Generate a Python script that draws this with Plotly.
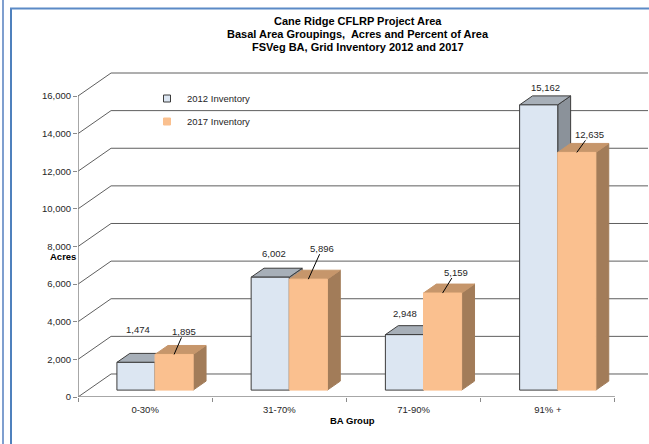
import plotly.graph_objects as go

# ---------------- data ----------------
categories = ["0-30%", "31-70%", "71-90%", "91% +"]
inv_2012 = [1474, 6002, 2948, 15162]
inv_2017 = [1895, 5896, 5159, 12635]
series_names = ["2012 Inventory", "2017 Inventory"]
y_ticks = [0, 2000, 4000, 6000, 8000, 10000, 12000, 14000, 16000]
title_lines = ["Cane Ridge CFLRP Project Area",
               "Basal Area Groupings,  Acres and Percent of Area",
               "FSVeg BA, Grid Inventory 2012 and 2017"]
x_title = "BA Group"
y_title = "Acres"

# ---------------- style / geometry ----------------
W, H = 649, 444
ML, MR, MT, MB = 78, 1, 72, 47
PLOT_W = W - ML - MR
PLOT_H = H - MT - MB
Y_TOP = 17276
DEPTH_X = 0.2463          # floor depth, category units
DEPTH_Y = 1223            # floor depth, value units
X_MIN, X_MAX = -0.5, len(categories) - 0.5 + DEPTH_X
BAR_W = 0.284
BAR_FRONT = 0.30          # bar front position as fraction of depth
BAR_DEPTH = 0.39          # bar depth as fraction of depth
FONT = "Liberation Sans, Arial, sans-serif"
TXT = "#262626"
GRID = "#5f5f5f"
AXIS = "#8a8a8a"

styles = [
    dict(front="#dce6f2", top="#a7afb8", side="#8b929a", edge="#3c3c3c"),
    dict(front="#fac08f", top="#c6966b", side="#a27c59", edge=None),
]
# label offsets (px) from the front-top centre of each bar
label_off_2012 = [(2, -33), (4, -24), (1, -21), (7, -17)]
label_off_2017 = [(10, -23), (14, -31), (13, -21), (13, -18)]


def px_x(p):
    return (p - ML) / PLOT_W


def px_y(p):
    return (H - MB - p) / PLOT_H


fig = go.Figure()

series_vals = [inv_2012, inv_2017]
fronts = []
for s, vals in enumerate(series_vals):
    st = styles[s]
    fx, fy, tx, ty, sx, sy = [], [], [], [], [], []
    for i, v in enumerate(vals):
        x0 = i + BAR_FRONT * DEPTH_X + (-BAR_W if s == 0 else 0)
        x1 = x0 + BAR_W
        y0 = BAR_FRONT * DEPTH_Y
        y1 = y0 + v
        dx = BAR_DEPTH * DEPTH_X
        dy = BAR_DEPTH * DEPTH_Y
        fx += [x0, x1, x1, x0, x0, None]
        fy += [y0, y0, y1, y1, y0, None]
        tx += [x0, x1, x1 + dx, x0 + dx, x0, None]
        ty += [y1, y1, y1 + dy, y1 + dy, y1, None]
        sx += [x1, x1 + dx, x1 + dx, x1, x1, None]
        sy += [y0, y0 + dy, y1 + dy, y1, y0, None]
        fronts.append((s, i, (x0 + x1) / 2, y1, v))
    for xs, ys, col in [(sx, sy, st["side"]), (tx, ty, st["top"]), (fx, fy, st["front"])]:
        fig.add_trace(go.Scatter(
            x=xs, y=ys, mode="lines", fill="toself", fillcolor=col,
            line=dict(color=st["edge"] or col, width=1),
            hoverinfo="skip", showlegend=False))

# legend entries
for s, name in enumerate(series_names):
    st = styles[s]
    fig.add_trace(go.Scatter(
        x=[None], y=[None], mode="markers", name=name, legendgroup=name,
        marker=dict(symbol="square", size=7, color=st["front"],
                    line=dict(color=st["edge"] or st["front"], width=1))))

shapes = []
# grid lines on left wall and back wall
for v in y_ticks:
    shapes.append(dict(type="line", xref="x", yref="y", layer="below",
                       x0=X_MIN, y0=v, x1=X_MIN + DEPTH_X, y1=v + DEPTH_Y,
                       line=dict(color=GRID, width=1)))
    shapes.append(dict(type="line", xref="x", yref="y", layer="below",
                       x0=X_MIN + DEPTH_X, y0=v + DEPTH_Y, x1=X_MAX, y1=v + DEPTH_Y,
                       line=dict(color=GRID, width=1)))
# front axis lines
shapes.append(dict(type="line", xref="x", yref="y", layer="below",
                   x0=X_MIN, y0=0, x1=X_MIN, y1=y_ticks[-1],
                   line=dict(color=AXIS, width=1.5)))
shapes.append(dict(type="line", xref="x", yref="y", layer="below",
                   x0=X_MIN, y0=0, x1=len(categories) - 0.5, y1=0,
                   line=dict(color=AXIS, width=1.5)))
# frame borders
shapes.append(dict(type="line", xref="paper", yref="paper",
                   x0=px_x(3), y0=px_y(0), x1=px_x(3), y1=px_y(H),
                   line=dict(color="#7f9fcf", width=2)))
shapes.append(dict(type="line", xref="paper", yref="paper",
                   x0=px_x(11), y0=px_y(8.5), x1=px_x(11), y1=px_y(H),
                   line=dict(color="#4f81bd", width=2)))
shapes.append(dict(type="line", xref="paper", yref="paper",
                   x0=px_x(10), y0=px_y(8.5), x1=px_x(W), y1=px_y(8.5),
                   line=dict(color="#5b8ac6", width=2)))

annotations = []
for k, line in enumerate(title_lines):
    annotations.append(dict(xref="paper", yref="paper", x=px_x(358),
                            y=px_y(20.7 + 13 * k), text="<b>%s</b>" % line,
                            showarrow=False, xanchor="center", yanchor="middle",
                            font=dict(family=FONT, size=11, color="#000000")))
annotations.append(dict(xref="paper", yref="paper", x=px_x(47.5), y=px_y(256),
                        text="<b>%s</b>" % y_title, showarrow=False,
                        font=dict(family=FONT, size=9.5, color="#000000")))
annotations.append(dict(xref="paper", yref="paper", x=px_x(352), y=px_y(428),
                        text="<b>%s</b>" % x_title, showarrow=False,
                        font=dict(family=FONT, size=9.5, color="#000000")))

for s, i, xc, ytop, v in fronts:
    if s == 0:
        ox, oy = label_off_2012[i]
        annotations.append(dict(x=xc, y=ytop, xref="x", yref="y",
                                text=f"{v:,}", showarrow=False,
                                xshift=ox, yshift=-oy,
                                font=dict(family=FONT, size=9.5, color=TXT)))
    else:
        ox, oy = label_off_2017[i]
        annotations.append(dict(x=xc, y=ytop, xref="x", yref="y",
                                text=f"{v:,}", showarrow=True, arrowhead=0,
                                arrowwidth=1, arrowcolor="#000000",
                                ax=ox, ay=oy, borderpad=0,
                                font=dict(family=FONT, size=9.5, color=TXT)))

fig.update_layout(
    width=W, height=H,
    margin=dict(l=ML, r=MR, t=MT, b=MB, pad=0),
    paper_bgcolor="white", plot_bgcolor="white",
    showlegend=True,
    legend=dict(x=px_x(147), y=px_y(84), xanchor="left", yanchor="top",
                traceorder="grouped", tracegroupgap=4, bgcolor="rgba(0,0,0,0)",
                font=dict(family=FONT, size=9.5, color=TXT)),
    xaxis=dict(range=[X_MIN, X_MAX], showgrid=False, zeroline=False,
               showline=False, tickmode="array",
               tickvals=list(range(len(categories))), ticktext=categories,
               ticks="outside", ticklen=4, tickcolor="rgba(0,0,0,0)",
               minor=dict(tickmode="array",
                          tickvals=[c - 0.5 for c in range(len(categories) + 1)],
                          ticks="outside", ticklen=4, tickcolor=AXIS, showgrid=False),
               tickfont=dict(family=FONT, size=9.5, color=TXT), fixedrange=True),
    yaxis=dict(range=[0, Y_TOP], showgrid=False, zeroline=False, showline=False,
               tickmode="array", tickvals=y_ticks,
               ticktext=[f"{t:,}" for t in y_ticks],
               ticks="outside", ticklen=4, tickcolor=AXIS,
               tickfont=dict(family=FONT, size=9.5, color=TXT), fixedrange=True),
    shapes=shapes, annotations=annotations,
)

fig.write_html("out.html")
